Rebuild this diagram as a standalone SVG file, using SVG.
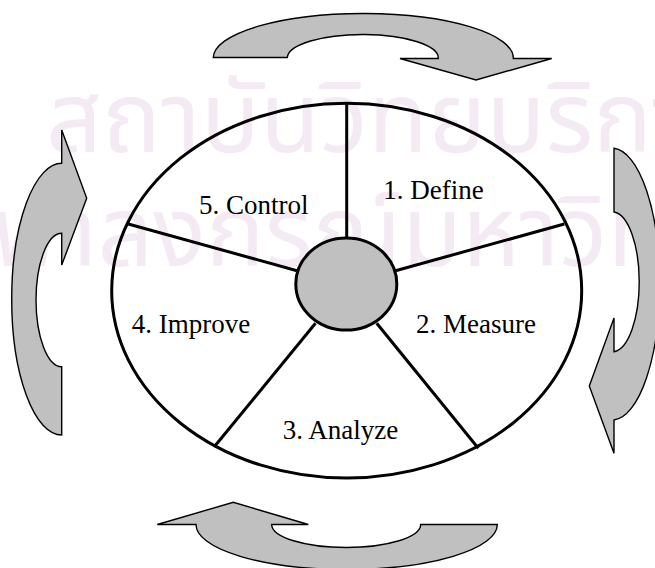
<svg xmlns="http://www.w3.org/2000/svg" width="655" height="568" viewBox="0 0 655 568">
  <style>
    .wm { font-family: "Noto Sans Thai", "Noto Sans", "DejaVu Sans", sans-serif; font-size: 98px; fill: #F4EAF4; }
    .arrow { fill: #C0C0C0; stroke: #000; stroke-width: 1.4; stroke-linejoin: miter; }
    .ring { fill: none; stroke: #000; stroke-width: 3; }
    .hub { fill: #C0C0C0; stroke: #000; stroke-width: 3; }
    .spoke { stroke: #000; stroke-width: 3; fill: none; }
    .lbl { font-size: 27px; fill: #000; }
  </style>
  <rect width="655" height="568" fill="#FFFFFF"/>
  <g id="watermark">
    <text class="wm" x="46" y="152">สถาบันวิทยบริการ</text>
    <text class="wm" x="-60" y="266">จุฬาลงกรณ์มหาวิทยาลัย</text>
  </g>
  <g id="cycle-arrows">
    <path id="arrow-top" class="arrow" d="M213.3,57.5 A150,44.5 0 0 1 513.3,58.5 L551.7,58.5 L476,80 L400,58.5 L438.3,58.5 A75.5,23.5 0 0 0 287.3,57.5 Z"/>
    <path id="arrow-right" class="arrow" d="M614,148.3 A48,136 0 0 1 614,420 L614,453.3 L589.3,386 L614,318 L614,351.7 A27,70 0 0 0 614,212 Z"/>
    <path id="arrow-bottom" class="arrow" d="M497.3,524.5 L420.7,524.5 A74.5,23 0 0 1 271.7,524.5 L308.3,524.5 L233.3,502.3 L157.3,524.5 L196,524.5 A150.6,45 0 0 0 497.3,524.5 Z"/>
    <path id="arrow-left" class="arrow" d="M61.7,163.3 A50,135.8 0 0 0 61.7,435 L61.7,366.7 A25.7,66.7 0 0 1 61.7,233.3 L61.7,265 L86.7,198.3 L61.7,130 Z"/>
  </g>
  <g id="ring">
    <ellipse class="ring" cx="346.7" cy="290.7" rx="235" ry="187.4"/>
  </g>
  <g id="connectors">
    <line class="spoke" x1="346.7" y1="103.3" x2="346.7" y2="238.5"/>
    <line class="spoke" x1="395.5" y1="270.7" x2="564.3" y2="224"/>
    <line class="spoke" x1="297" y1="270.7" x2="128.3" y2="224"/>
    <line class="spoke" x1="376.7" y1="323.3" x2="478.3" y2="448.3"/>
    <line class="spoke" x1="315.5" y1="323.3" x2="214.3" y2="446.7"/>
  </g>
  <g id="hub">
    <ellipse class="hub" cx="346.3" cy="284" rx="50.5" ry="46"/>
  </g>
  <g font-family="'Liberation Serif', 'DejaVu Serif', serif">
    <g id="step-define"><text class="lbl" x="383.3" y="199">1. Define</text></g>
    <g id="step-measure"><text class="lbl" x="416" y="333">2. Measure</text></g>
    <g id="step-analyze"><text class="lbl" x="282.7" y="439">3. Analyze</text></g>
    <g id="step-improve"><text class="lbl" x="131.7" y="333">4. Improve</text></g>
    <g id="step-control"><text class="lbl" x="199" y="214">5. Control</text></g>
  </g>
</svg>
